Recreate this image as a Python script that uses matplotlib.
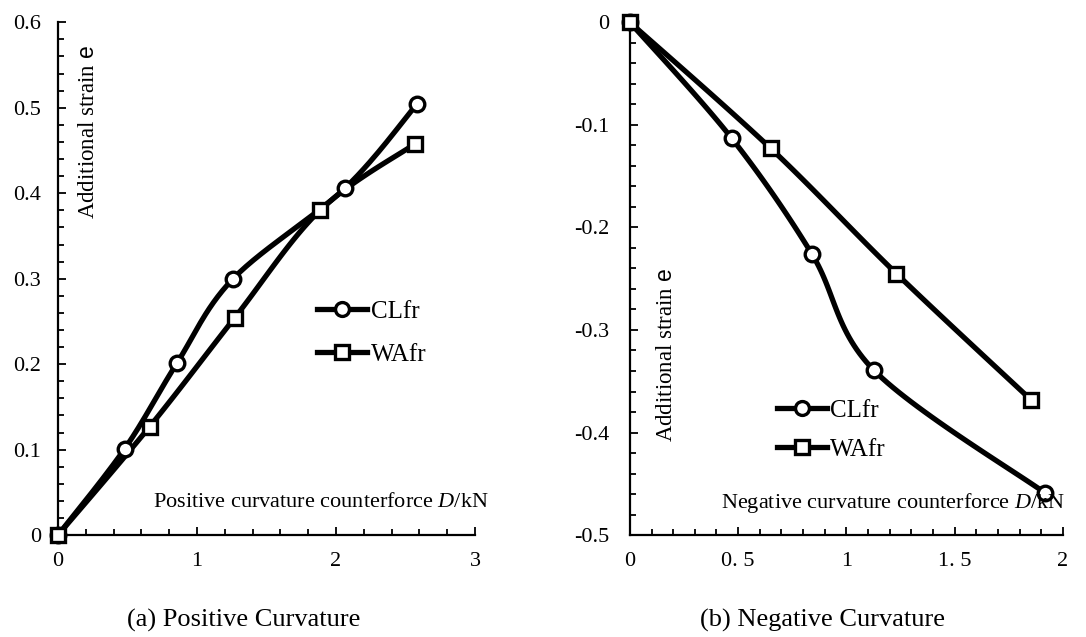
import numpy as np
import matplotlib
matplotlib.use('Agg')
import matplotlib.pyplot as plt
from matplotlib.ticker import MultipleLocator, FixedLocator, FixedFormatter

plt.rcParams['font.family'] = ['Liberation Serif', 'DejaVu Serif']
plt.rcParams['mathtext.fontset'] = 'custom'
plt.rcParams['mathtext.rm'] = 'Liberation Serif'
plt.rcParams['mathtext.it'] = 'Liberation Serif:italic'
plt.rcParams['mathtext.sf'] = 'Liberation Sans'
plt.rcParams['axes.unicode_minus'] = False

# (a) positive curvature
pos_cl_x = [0, 0.48, 0.855, 1.26, 2.065, 2.58]
pos_cl_y = [0, 0.101, 0.201, 0.300, 0.406, 0.504]
pos_wa_x = [0, 0.66, 1.27, 1.885, 2.57]
pos_wa_y = [0, 0.127, 0.254, 0.380, 0.458]

# (b) negative curvature
neg_cl_x = [0, 0.47, 0.841, 1.126, 1.918]
neg_cl_y = [0, -0.113, -0.226, -0.339, -0.459]
neg_wa_x = [0, 0.651, 1.231, 1.852]
neg_wa_y = [0, -0.123, -0.245, -0.368]

series_names = ['CLfr', 'WAfr']
pos_xticks = [0, 1, 2, 3]
pos_xtick_labels = ['0', '1', '2', '3']
pos_yticks = [0, 0.1, 0.2, 0.3, 0.4, 0.5, 0.6]
pos_ytick_labels = ['0', '0.1', '0.2', '0.3', '0.4', '0.5', '0.6']
neg_xticks = [0, 0.5, 1, 1.5, 2]
neg_xtick_labels = ['0', '0. 5', '1', '1. 5', '2']
neg_yticks = [-0.5, -0.4, -0.3, -0.2, -0.1, 0]
neg_ytick_labels = ['-0.5', '-0.4', '-0.3', '-0.2', '-0.1', '0']


def smooth(x, y, n=30):
    # excel-like smoothed line (bezier segments through the points)
    p = np.column_stack([x, y]).astype(float)
    p = np.vstack([p[0], p, p[-1]])
    out = []
    for i in range(1, len(p) - 2):
        p0, p1, p2, p3 = p[i - 1], p[i], p[i + 1], p[i + 2]
        c1 = p1 + (p2 - p0) / 6
        c2 = p2 - (p3 - p1) / 6
        t = np.linspace(0, 1, n)[:, None]
        seg = ((1 - t) ** 3) * p1 + 3 * ((1 - t) ** 2) * t * c1 + 3 * (1 - t) * t ** 2 * c2 + t ** 3 * p2
        out.append(seg if i == 1 else seg[1:])
    out = np.vstack(out)
    return out[:, 0], out[:, 1]


def draw(ax, x, y, marker, label):
    sx, sy = smooth(x, y)
    ax.plot(sx, sy, color='black', lw=3.8, solid_capstyle='round', zorder=2, clip_on=False)
    ax.plot(x, y, ls='none', marker=marker, ms=10.5, mfc='white', mec='black', mew=2.4, zorder=3,
            clip_on=False)
    # proxy for the legend
    ax.plot([], [], color='black', lw=3.8, marker=marker, ms=10, mfc='white', mec='black', mew=2.4,
            label=label)


def style(ax, xt, xl, yt, yl, xminor):
    ax.xaxis.set_major_locator(FixedLocator(xt))
    ax.xaxis.set_major_formatter(FixedFormatter(xl))
    ax.yaxis.set_major_locator(FixedLocator(yt))
    ax.yaxis.set_major_formatter(FixedFormatter(yl))
    ax.xaxis.set_minor_locator(MultipleLocator(xminor))
    ax.yaxis.set_minor_locator(MultipleLocator(0.02))
    for s in ['top', 'right']:
        ax.spines[s].set_visible(False)
    for s in ['left', 'bottom']:
        ax.spines[s].set_linewidth(1.6)
    ax.tick_params(which='both', direction='in', width=1.3, labelsize=16)
    ax.tick_params(which='major', length=6)
    ax.tick_params(which='minor', length=4)
    ax.tick_params(axis='y', pad=12)
    ax.tick_params(axis='x', pad=12)


fig = plt.figure(figsize=(10.86, 6.37), dpi=100)

# ---- (a)
ax1 = fig.add_axes([0.0534, 0.160, 0.384, 0.805])
draw(ax1, pos_cl_x, pos_cl_y, 'o', series_names[0])
draw(ax1, pos_wa_x, pos_wa_y, 's', series_names[1])
ax1.set_xlim(0, 3)
ax1.set_ylim(0, 0.6)
style(ax1, pos_xticks, pos_xtick_labels, pos_yticks, pos_ytick_labels, 0.2)
ax1.text(0.072, 0.786, r'Additional strain $\mathsf{e}$', rotation=90, transform=ax1.transAxes,
         ha='center', va='center', fontsize=16.5)
ax1.text(0.631, 0.064, r'Positive curvature counterforce $D$/kN', transform=ax1.transAxes,
         ha='center', va='center', fontsize=16)
ax1.legend(loc='upper left', bbox_to_anchor=(0.621, 0.457), frameon=False, fontsize=18,
           handlelength=2.0, handletextpad=0.15, labelspacing=0.8, borderpad=0, borderaxespad=0)

# ---- (b)
ax2 = fig.add_axes([0.580, 0.160, 0.3987, 0.805])
draw(ax2, neg_cl_x, neg_cl_y, 'o', series_names[0])
draw(ax2, neg_wa_x, neg_wa_y, 's', series_names[1])
ax2.set_xlim(0, 2)
ax2.set_ylim(-0.5, 0)
style(ax2, neg_xticks, neg_xtick_labels, neg_yticks, neg_ytick_labels, 0.1)
ax2.tick_params(axis='y', pad=15)
ax2.text(0.085, 0.351, r'Additional strain $\mathsf{e}$', rotation=90, transform=ax2.transAxes,
         ha='center', va='center', fontsize=16.5)
ax2.text(0.609, 0.062, r'Negative curvature counterforce $D$/kN', transform=ax2.transAxes,
         ha='center', va='center', fontsize=16)
ax2.legend(loc='upper left', bbox_to_anchor=(0.339, 0.264), frameon=False, fontsize=18,
           handlelength=2.0, handletextpad=0.15, labelspacing=0.65, borderpad=0, borderaxespad=0)

fig.text(0.2247, 0.0267, '(a) Positive Curvature', ha='center', va='center', fontsize=19)
fig.text(0.757, 0.0267, '(b) Negative Curvature', ha='center', va='center', fontsize=19)

fig.savefig('out.png', dpi=100)
